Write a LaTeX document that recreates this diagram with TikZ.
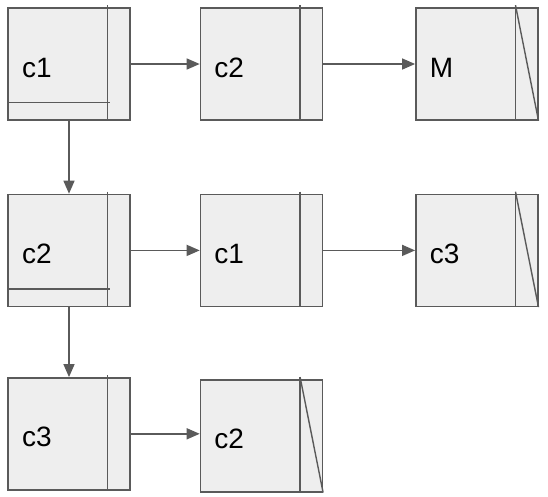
\documentclass[tikz,border=0pt]{standalone}
\usepackage{fontspec}
\setmainfont{Liberation Sans}
\usepackage{xcolor}
\usetikzlibrary{arrows.meta, positioning}
\definecolor{cellfill}{HTML}{EEEEEE}
\definecolor{cellline}{HTML}{5A5A5A}

\begin{document}
\begin{tikzpicture}[
    x=1pt, y=1pt,
    cell/.style={draw=cellline, fill=cellfill, line width=1.4pt, minimum width=122pt, minimum height=112pt,
        text width=94pt, inner xsep=14pt, inner ysep=0pt, text height=28pt, text depth=2pt,
        align=left, font=\fontsize{28}{32}\selectfont},
    divider/.style={draw=cellline, line width=1.4pt},
    arrow/.style={-{Triangle[length=13pt,width=11pt]}, draw=cellline, fill=cellline, line width=1.4pt}
]
\useasboundingbox (0,0) rectangle (548,-496);

% --- Cells ---
\node[cell] (a1) at (69,-64) {c1};
\node[cell, right=69pt of a1] (b1) {c2};
\node[cell, right=92pt of b1] (c1) {M};

\node[cell, below=73pt of a1] (a2) {c2};
\node[cell, right=69pt of a2] (b2) {c1};
\node[cell, right=92pt of b2] (c2) {c3};

\node[cell, below=70pt of a2] (a3) {c3};
\node[cell, right=69pt of a3, yshift=-2pt] (b3) {c2};

% --- Dividers ---
\foreach \n in {a1,b1,c1,a2,b2,c2,a3,b3}
    \draw[divider] ([xshift=-23pt,yshift=2pt]\n.north east) -- ([xshift=-23pt]\n.south east);

% null pointers
\foreach \n in {c1,c2,b3}
    \draw[divider] ([xshift=-23pt,yshift=2pt]\n.north east) -- (\n.south east);

% down pointers
\foreach \n in {a1,a2}
    \draw[divider] ([yshift=18pt]\n.south west) -- ([xshift=-21pt,yshift=18pt]\n.south east);

% --- Arrows ---
\draw[arrow] (a1) -- (b1);
\draw[arrow] (b1) -- (c1);
\draw[arrow] (a2) -- (b2);
\draw[arrow] (b2) -- (c2);
\draw[arrow] (a3.east) -- (b3.west |- a3.east);
\draw[arrow] (a1) -- (a2);
\draw[arrow] (a2) -- (a3);

\end{tikzpicture}
\end{document}
